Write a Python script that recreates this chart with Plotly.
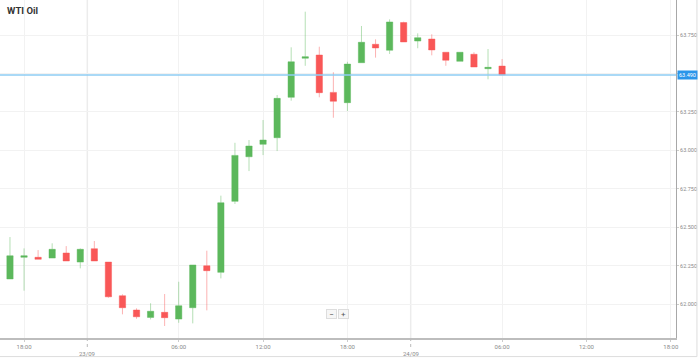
import plotly.graph_objects as go

title = "WTI Oil"
times = ["22/09 17:00", "22/09 18:00", "22/09 19:00", "22/09 20:00", "22/09 21:00", "22/09 22:00",
         "23/09 00:00", "23/09 01:00", "23/09 02:00", "23/09 03:00", "23/09 04:00", "23/09 05:00",
         "23/09 06:00", "23/09 07:00", "23/09 08:00", "23/09 09:00", "23/09 10:00", "23/09 11:00",
         "23/09 12:00", "23/09 13:00", "23/09 14:00", "23/09 15:00", "23/09 16:00", "23/09 17:00",
         "23/09 18:00", "23/09 19:00", "23/09 20:00", "23/09 21:00", "23/09 22:00",
         "24/09 00:00", "24/09 01:00", "24/09 02:00", "24/09 03:00", "24/09 04:00", "24/09 05:00",
         "24/09 06:00"]
open_ = [62.163, 62.304, 62.304, 62.299, 62.332, 62.273, 62.360, 62.273, 62.054, 61.961, 61.913, 61.946,
         61.902, 61.976, 62.249, 62.206, 62.668, 62.958, 63.039, 63.082, 63.345, 63.599, 63.620, 63.377,
         63.310, 63.570, 63.690, 63.651, 63.831, 63.711, 63.724, 63.638, 63.579, 63.625, 63.531, 63.548]
high = [62.436, 62.362, 62.351, 62.395, 62.377, 62.362, 62.410, 62.273, 62.063, 61.972, 62.005, 62.065,
        62.145, 62.254, 62.347, 62.705, 63.049, 63.067, 63.197, 63.360, 63.670, 63.902, 63.674, 63.508,
        63.576, 63.809, 63.722, 63.852, 63.837, 63.761, 63.755, 63.638, 63.638, 63.638, 63.659, 63.594]
low = [62.163, 62.087, 62.291, 62.299, 62.280, 62.232, 62.280, 62.041, 61.933, 61.904, 61.900, 61.857,
       61.878, 61.874, 61.959, 62.167, 62.651, 62.865, 62.969, 62.995, 63.323, 63.550, 63.345, 63.212,
       63.256, 63.570, 63.603, 63.627, 63.705, 63.664, 63.618, 63.550, 63.579, 63.542, 63.462, 63.490]
close = [62.314, 62.314, 62.291, 62.356, 62.280, 62.356, 62.280, 62.047, 61.976, 61.917, 61.953, 61.911,
         61.989, 62.254, 62.217, 62.659, 62.967, 63.028, 63.067, 63.338, 63.576, 63.609, 63.375, 63.319,
         63.561, 63.703, 63.666, 63.835, 63.705, 63.733, 63.653, 63.586, 63.638, 63.542, 63.540, 63.490]

time_tick_pos = [1, 12, 18, 24, 35, 41, 47]
time_tick_text = ["18:00", "06:00", "12:00", "18:00", "06:00", "12:00", "18:00"]
date_tick_pos = [5.5, 28.5]
date_tick_text = ["23/09", "24/09"]
y_ticks = [62.0, 62.25, 62.5, 62.75, 63.0, 63.25, 63.5, 63.75]

x = list(range(len(times)))
last_price = close[-1]

GREEN = "#5cb85c"
RED = "#f95757"
LBL = "#8a8a8a"

fig = go.Figure()
fig.add_trace(go.Candlestick(
    x=x, open=open_, high=high, low=low, close=close, text=times,
    increasing=dict(line=dict(color="rgba(92,184,92,0.45)", width=1), fillcolor=GREEN),
    decreasing=dict(line=dict(color="rgba(249,87,87,0.45)", width=1), fillcolor=RED),
    showlegend=False, hoverinfo="text+y"))

shapes = []
for p in date_tick_pos:
    shapes.append(dict(type="line", xref="x", yref="paper", x0=p, x1=p, y0=0, y1=1,
                       line=dict(color="#ececec", width=1.5), layer="below"))
    shapes.append(dict(type="line", xref="x", yref="paper", x0=p, x1=p, y0=0, y1=-0.035,
                       line=dict(color="#bbbbbb", width=1, dash="dot")))
shapes.append(dict(type="line", xref="paper", yref="y", x0=0, x1=1, y0=last_price, y1=last_price,
                   line=dict(color="#8ecdf3", width=1.5)))
# outer frame
shapes.append(dict(type="line", xref="paper", yref="paper", x0=1.031, x1=1.031, y0=-0.055, y1=1,
                   line=dict(color="#dddddd", width=1)))
shapes.append(dict(type="line", xref="paper", yref="paper", x0=0, x1=1.031, y0=-0.055, y1=-0.055,
                   line=dict(color="#dddddd", width=1)))

annotations = [
    dict(text="<b>" + title + "</b>", xref="paper", yref="paper", x=0.007, y=0.97,
         xanchor="left", yanchor="middle", showarrow=False,
         font=dict(family="Roboto", size=9.5, color="#333333")),
    dict(text="%.3f" % last_price, xref="paper", yref="y", x=1.002, y=last_price,
         xanchor="left", yanchor="middle", showarrow=False, bgcolor="#2a95ea",
         borderpad=1, font=dict(family="Roboto", size=5.5, color="white")),
    dict(text="−", xref="paper", yref="paper", x=0.491, y=0.056, showarrow=False,
         bgcolor="#f6f6f6", bordercolor="#dddddd", borderwidth=1, borderpad=0,
         width=9, height=8, font=dict(family="Roboto", size=8, color="#555")),
    dict(text="+", xref="paper", yref="paper", x=0.508, y=0.056, showarrow=False,
         bgcolor="#f6f6f6", bordercolor="#dddddd", borderwidth=1, borderpad=0,
         width=9, height=8, font=dict(family="Roboto", size=8, color="#555")),
]
for p, t in zip(date_tick_pos, date_tick_text):
    annotations.append(dict(text=t, xref="x", yref="paper", x=p, y=0, yshift=-15,
                            xanchor="center", yanchor="middle", showarrow=False,
                            font=dict(family="Roboto", size=6, color=LBL)))

fig.update_layout(
    width=699, height=358,
    margin=dict(l=0, r=23, t=0, b=20),
    paper_bgcolor="white", plot_bgcolor="white",
    boxgap=0.36,
    shapes=shapes, annotations=annotations,
    xaxis=dict(range=[-0.71, 47.37], rangeslider=dict(visible=False),
               tickmode="array", tickvals=time_tick_pos, ticktext=time_tick_text,
               showgrid=True, gridcolor="#f2f2f2", gridwidth=1,
               showline=True, linecolor="#bdbdbd", linewidth=1.5,
               ticks="outside", ticklen=2, tickcolor="#cccccc",
               tickfont=dict(family="Roboto", size=6, color=LBL), zeroline=False),
    yaxis=dict(range=[61.779, 63.978], side="right",
               tickmode="array", tickvals=y_ticks,
               ticktext=["%.3f" % v if v != 63.5 else "" for v in y_ticks],
               showgrid=True, gridcolor="#f2f2f2", gridwidth=1,
               showline=True, linecolor="#a8a8a8", linewidth=1,
               ticks="outside", ticklen=2, tickcolor="#cccccc",
               tickfont=dict(family="Roboto", size=5.5, color=LBL), zeroline=False),
    hovermode=False,
)

fig.write_html("out.html", config={"displayModeBar": False},
               post_script="document.body.style.margin='0';document.body.style.padding='0';")
